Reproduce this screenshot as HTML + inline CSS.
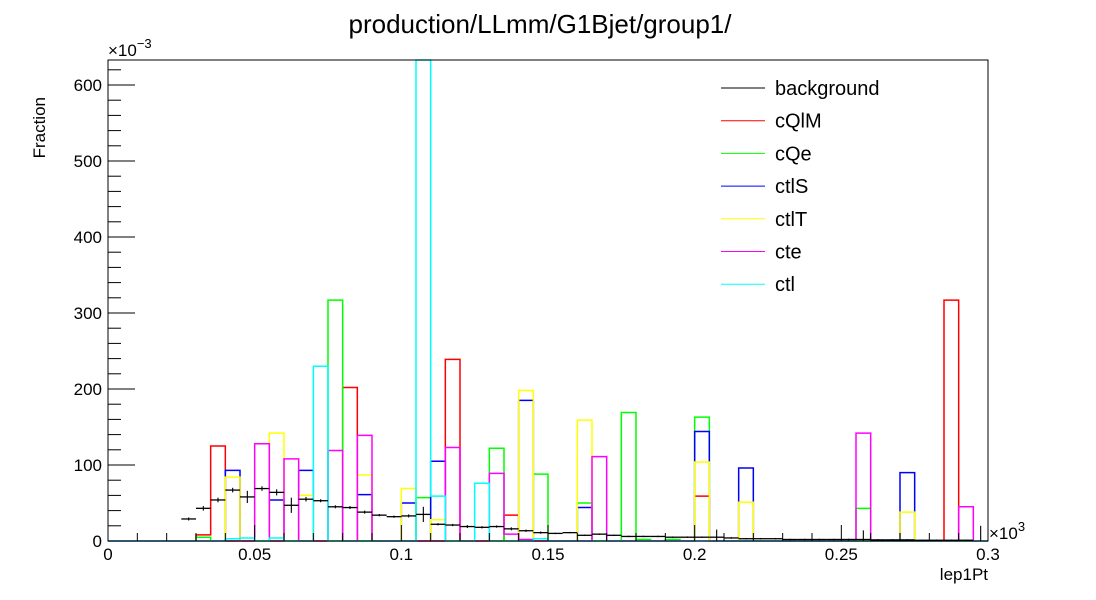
<!DOCTYPE html>
<html><head><meta charset="utf-8"><style>
html,body{margin:0;padding:0;background:#fff;}
svg{display:block;font-family:"Liberation Sans",sans-serif;}
</style></head><body>
<svg id="chart" width="1096" height="600" viewBox="0 0 1096 600">
<rect x="0" y="0" width="1096" height="600" fill="#fff"/>
<text x="540" y="33" font-size="26" text-anchor="middle">production/LLmm/G1Bjet/group1/</text>
<g id="plot"></g>
<g id="axes"></g>
<text x="45" y="97" font-size="17" text-anchor="end" transform="rotate(-90 45 97)">Fraction</text>
<text x="108" y="56" font-size="17">×10<tspan dy="-8" font-size="13">−3</tspan></text>
<text x="989" y="539" font-size="17">×10<tspan dy="-8" font-size="13">3</tspan></text>
<text x="988" y="580" font-size="17" text-anchor="end">lep1Pt</text>
<g id="legend"></g>
</svg>
<script>
const NS="http://www.w3.org/2000/svg";
const seriesNames=["background","cQlM","cQe","ctlS","ctlT","cte","ctl"];
const seriesColors=["#000000","#ff0000","#00ff00","#0000ff","#ffff00","#ff00ff","#00ffff"];
const yTicks=[0,100,200,300,400,500,600];
const xTicks=[0,0.05,0.1,0.15,0.2,0.25,0.3];
const xTickLabels=["0","0.05","0.1","0.15","0.2","0.25","0.3"];
const nBins=60, xMin=0, xMax=0.3;
const background=[0,0,0,0,0,29,43,54,67,58,69,64,47,55,53,45,44,38,34,32,33,35,22,21,19,18,19,16,13.5,11,10,11,7.5,9,7.5,6,6,6,5,5,5,5,4,3,3,3,2,2,2,2,2,2,1.5,1.5,1.5,1,1,1,1,0];
const backgroundErr=[0,0,0,0,0,2,3,3,3,8,3,4,10,3,2,2,2,2,1.5,1.5,2,10,1.5,1.5,2,1.5,1.5,2,1.5,1.5,1,1,1,1,1,1,1,1,1,1,1,10,1,1,1,1,1,1,1,1,1,12,1,1,1,1,1,1,1,20];
function sparse(m){const a=new Array(nBins).fill(0);for(const k in m)a[k]=m[k];return a;}
const cQlM=sparse({6:8,7:125,16:202,23:239,27:34,40:59,57:317});
const cQe=sparse({6:5,15:317,21:57,26:122,29:88,32:50,35:169,36:2,38:2,40:163,51:43});
const ctlS=sparse({8:93,11:54,13:93,17:61,20:50,22:105,28:185,32:44,40:144,43:96,54:90});
const ctlT=sparse({8:84,11:142,13:60,17:87,20:69,22:28,28:198,32:159,40:104,43:51,54:38});
const cte=sparse({10:128,12:108,15:119,17:139,23:123,26:89,27:9,28:2,33:111,51:142,58:45});
const ctl=sparse({8:3,9:4,11:4,14:230,21:700,22:59,25:76,29:3});
const signals=[cQlM,cQe,ctlS,ctlT,cte,ctl];

const X0=108,X1=988,Y0=541,YT=60;
const yMaxVal=(Y0-YT)/0.76;
function sx(v){return X0+(v-xMin)/(xMax-xMin)*(X1-X0);}
function sy(v){return Y0-v/yMaxVal*(Y0-YT);}
function binLo(i){return xMin+i*(xMax-xMin)/nBins;}
function cl(y){return Math.max(YT,y);}
const plot=document.getElementById('plot');
const axes=document.getElementById('axes');
const legend=document.getElementById('legend');
function mk(tag,attrs,parent){const e=document.createElementNS(NS,tag);for(const k in attrs)e.setAttribute(k,attrs[k]);parent.appendChild(e);return e;}

signals.forEach((arr,si)=>{
  let d="M"+sx(xMin)+" "+sy(0);
  for(let i=0;i<nBins;i++){
    const y=cl(sy(arr[i]));
    d+=" L"+sx(binLo(i)).toFixed(2)+" "+y.toFixed(2)+" L"+sx(binLo(i+1)).toFixed(2)+" "+y.toFixed(2);
  }
  d+=" L"+sx(xMax)+" "+sy(0);
  const p=mk('path',{d:d,fill:"none",stroke:seriesColors[si+1],"stroke-width":"1.5"},plot);
  
  
});
const bg=mk('g',{},plot);


for(let i=0;i<nBins;i++){
  const v=background[i];
  const xc=sx((binLo(i)+binLo(i+1))/2);
  if(v>0){
    const l=mk('line',{x1:sx(binLo(i)),x2:sx(binLo(i+1)),y1:sy(v),y2:sy(v),stroke:"#000","stroke-width":"1.3"},bg);
    
    
  }
  const e=backgroundErr[i];
  if(e>0){
    const l2=mk('line',{x1:xc,x2:xc,y1:sy(v+e),y2:sy(Math.max(0,v-e)),stroke:"#000","stroke-width":"1.1"},bg);
    
    
  }
}
const fr=mk('rect',{x:X0,y:YT,width:X1-X0,height:Y0-YT,fill:"none",stroke:"#000","stroke-width":"1"},axes);


for(let v=0;v<=620;v+=20){
  const y=sy(v); if(y<YT) break;
  const major=(v%100===0);
  const t=mk('line',{x1:X0,x2:X0+(major?27:13),y1:y,y2:y,stroke:"#000","stroke-width":"1"},axes);
  
  
}
yTicks.forEach(v=>{
  const t=mk('text',{x:X0-6,y:sy(v)+6,"font-size":"17","text-anchor":"end"},axes);
  t.textContent=String(v);
  
  
});
for(let k=0;k<=30;k++){
  const v=k*0.01, x=sx(v), major=(k%5===0);
  const t=mk('line',{x1:x,x2:x,y1:Y0,y2:Y0-(major?16:8),stroke:"#000","stroke-width":"1"},axes);
  
  
}
xTicks.forEach((v,i)=>{
  const t=mk('text',{x:sx(v),y:560,"font-size":"17","text-anchor":"middle"},axes);
  t.textContent=xTickLabels[i];
  
  
});
seriesNames.forEach((n,i)=>{
  const y=88+i*32.7;
  const l=mk('line',{x1:721,x2:765,y1:y,y2:y,stroke:seriesColors[i],"stroke-width":"1"},legend);
  
  
  const t=mk('text',{x:775,y:y+7,"font-size":"20"},legend);
  t.textContent=n;
  
  
});
</script>
</body></html>
